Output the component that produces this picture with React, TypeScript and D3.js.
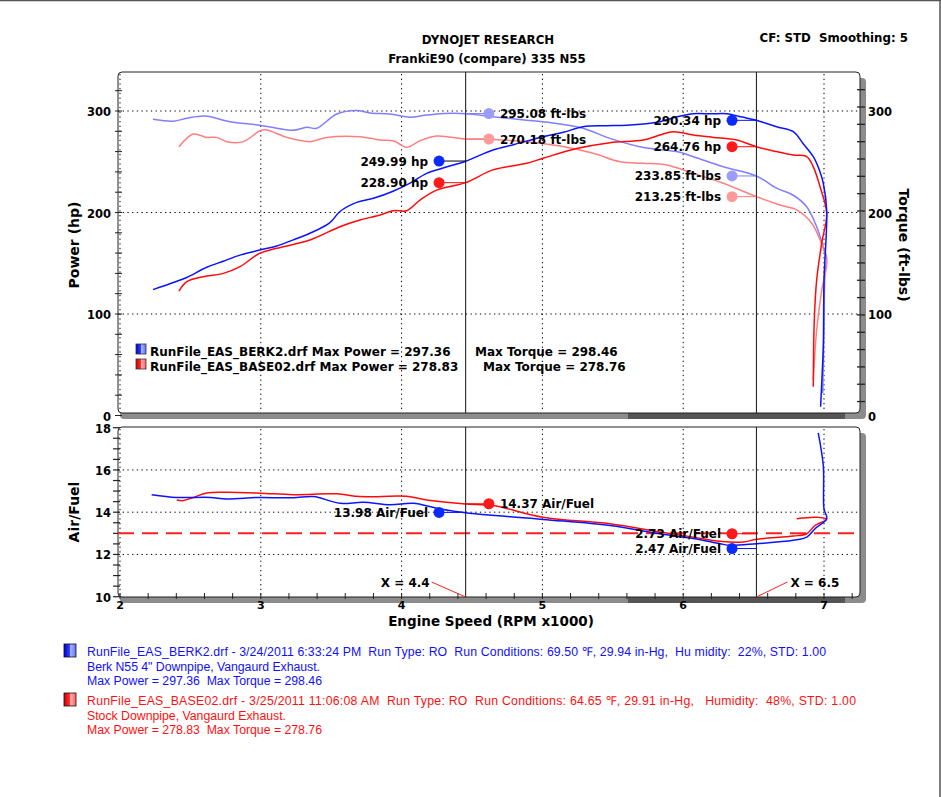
import React from "react";
import * as d3 from "d3";

// ---------- DATA ----------
const blueHpRpm = [2.234, 2.379, 2.474, 2.616, 2.734, 2.852, 2.994, 3.113, 3.231, 3.373, 3.491, 3.562, 3.681, 3.8, 3.939, 4.06, 4.178, 4.3, 4.455, 4.649, 4.8, 5.004, 5.15, 5.288, 5.45, 5.599, 5.835, 5.95, 6.072, 6.2, 6.309, 6.42, 6.52, 6.664, 6.782, 6.851, 6.924, 6.972, 6.995, 7.019, 7.0, 6.995, 6.985, 6.976];
const blueHp = [124, 131, 136, 146, 152, 158, 163, 167, 173, 181, 190, 201, 210, 214, 221, 229, 238.6, 244, 250.5, 261.6, 267, 274.7, 279, 284.5, 285.5, 286, 289.5, 294, 297.4, 297.2, 297.3, 294, 290.8, 284.5, 279.6, 268, 255, 240, 228.8, 202.5, 133, 68, 35, 8.7];

const blueTqRpm = [2.234, 2.379, 2.474, 2.604, 2.781, 2.994, 3.113, 3.231, 3.326, 3.397, 3.539, 3.681, 3.776, 3.918, 4.06, 4.178, 4.3, 4.455, 4.649, 4.888, 5.004, 5.288, 5.48, 5.717, 5.954, 6.072, 6.285, 6.52, 6.664, 6.782, 6.877, 6.948, 6.995, 7.019, 7.007, 6.999, 6.991];
const blueTq = [291.8, 290, 292.8, 295, 289.5, 286, 283, 281, 284, 283, 297, 300.5, 298, 297, 293.8, 296, 297.5, 297.4, 294.4, 291, 289.5, 283, 273, 264, 260, 255, 245, 236, 224, 217, 205.7, 186, 166, 155, 140, 80, 22];

const redHpRpm = [2.419, 2.474, 2.592, 2.734, 2.852, 2.994, 3.113, 3.349, 3.562, 3.705, 3.847, 3.941, 4.036, 4.131, 4.249, 4.455, 4.649, 4.888, 5.004, 5.244, 5.48, 5.717, 5.835, 5.93, 6.072, 6.214, 6.38, 6.52, 6.664, 6.782, 6.877, 6.924, 6.972, 7.019, 6.984, 6.948, 6.931, 6.924];
const redHp = [122.6, 131.8, 136.7, 140, 146.6, 160, 164.7, 172.9, 186, 192.6, 197.5, 201.8, 201.8, 212.3, 222, 229.4, 242, 248.5, 253.4, 263, 268.8, 271.4, 276.4, 279.6, 276.4, 274, 271.4, 264.8, 260, 256.6, 255, 245, 225.4, 199, 170, 133.5, 94, 28.4];

const redTqRpm = [2.419, 2.521, 2.616, 2.687, 2.758, 2.876, 2.994, 3.042, 3.184, 3.349, 3.468, 3.705, 3.847, 3.941, 4.036, 4.131, 4.249, 4.455, 4.649, 4.888, 5.125, 5.362, 5.551, 5.717, 5.883, 6.072, 6.285, 6.52, 6.688, 6.806, 6.913, 6.972, 7.019, 6.984, 6.948, 6.924];
const redTq = [264.8, 277.3, 274, 274, 269.8, 269.8, 280.6, 281.3, 274, 269.8, 274, 274.7, 271.4, 270.7, 264.2, 270.7, 275.4, 272.4, 272, 269.8, 265.5, 258.3, 250, 248.5, 246.8, 238.6, 228.8, 215.6, 207.4, 202.5, 189.4, 172.9, 151.5, 123.6, 84.2, 35];

const blueAfrRpm = [2.225, 2.403, 2.639, 2.758, 2.994, 3.231, 3.373, 3.562, 3.728, 3.918, 4.083, 4.249, 4.455, 5.004, 5.48, 5.835, 6.072, 6.261, 6.332, 6.522, 6.782, 6.877, 6.936, 7.019, 7.0, 6.995, 6.959];
const blueAfr = [14.83, 14.7, 14.7, 14.63, 14.7, 14.68, 14.74, 14.42, 14.47, 14.35, 14.42, 14.19, 13.97, 13.66, 13.37, 12.98, 12.75, 12.51, 12.43, 12.51, 12.67, 12.82, 13.22, 13.69, 14.16, 16.2, 17.76];

const redAfrRpm = [2.403, 2.45, 2.521, 2.616, 2.758, 2.994, 3.231, 3.539, 3.705, 4.036, 4.178, 4.455, 4.649, 5.004, 5.48, 5.835, 6.072, 6.261, 6.427, 6.522, 6.782, 6.877, 6.936, 7.019, 6.948, 6.806];
const redAfr = [14.58, 14.55, 14.7, 14.91, 14.94, 14.9, 14.83, 14.87, 14.74, 14.75, 14.58, 14.39, 14.32, 13.76, 13.45, 13.06, 12.82, 12.62, 12.59, 12.72, 12.87, 12.98, 13.37, 13.66, 13.76, 13.69];

const targetAfr = 13;
const cursorRpm = [4.455, 6.52];
const cursorLabels = ["X = 4.4", "X = 6.5"];

const topNoteLabels = ["249.99 hp", "228.90 hp", "295.08 ft-lbs", "270.18 ft-lbs", "290.34 hp", "264.76 hp", "233.85 ft-lbs", "213.25 ft-lbs"];
const topNoteRpm = [4.266, 4.266, 4.62, 4.62, 6.347, 6.347, 6.347, 6.347];
const topNoteValues = [250.7, 229.4, 297.5, 272.4, 290.8, 264.8, 236, 215.6];
const topNoteSeries = ["blueHp", "redHp", "blueTq", "redTq", "blueHp", "redHp", "blueTq", "redTq"];
const topNoteSide = ["left", "left", "right", "right", "left", "left", "left", "left"];
const topNoteCursor = [0, 0, 0, 0, 1, 1, 1, 1];

const afrNoteLabels = ["13.98 Air/Fuel", "14.37 Air/Fuel", "2.73 Air/Fuel", "2.47 Air/Fuel"];
const afrNoteRpm = [4.266, 4.62, 6.347, 6.347];
const afrNoteValues = [13.99, 14.4, 12.98, 12.28];
const afrNoteSeries = ["blueAfr", "redAfr", "redAfr", "blueAfr"];
const afrNoteSide = ["left", "right", "left", "left"];
const afrNoteCursor = [0, 0, 1, 1];

const xTickLabels = ["2", "3", "4", "5", "6", "7"];
const powerTickLabels = ["0", "100", "200", "300"];
const torqueTickLabels = ["0", "100", "200", "300"];
const afrTickLabels = ["10", "12", "14", "16", "18"];

const legendNames = ["RunFile_EAS_BERK2.drf Max Power = 297.36", "RunFile_EAS_BASE02.drf Max Power = 278.83"];
const legendTorque = ["Max Torque = 298.46", "Max Torque = 278.76"];

const infoBlue = [
  "RunFile_EAS_BERK2.drf - 3/24/2011 6:33:24 PM  Run Type: RO  Run Conditions: 69.50 \u2109, 29.94 in-Hg,  Hu midity:  22%, STD: 1.00",
  "Berk N55 4\" Downpipe, Vangaurd Exhaust.",
  "Max Power = 297.36  Max Torque = 298.46",
];
const infoRed = [
  "RunFile_EAS_BASE02.drf - 3/25/2011 11:06:08 AM  Run Type: RO  Run Conditions: 64.65 \u2109, 29.91 in-Hg,   Humidity:  48%, STD: 1.00",
  "Stock Downpipe, Vangaurd Exhaust.",
  "Max Power = 278.83  Max Torque = 278.76",
];

// ---------- STYLE ----------
const W = 941, H = 797;
const infoWidthsBlue = [739, 233, 235];
const infoWidthsRed = [769, 199, 235];
const colors: Record<string, string> = {
  blueHp: "#0a14ff",
  blueTq: "#7f7fff",
  redHp: "#ff0a0a",
  redTq: "#ff7f7f",
  blueAfr: "#0a14ff",
  redAfr: "#ff0a0a",
};
const dotColors: Record<string, string> = {
  blueHp: "#0a2aff",
  blueTq: "#9c9cff",
  redHp: "#ff1a1a",
  redTq: "#ff9a9a",
  blueAfr: "#0a2aff",
  redAfr: "#ff1a1a",
};
const BOLD = "'DejaVu Sans', Verdana, sans-serif";
const SANS = "'Liberation Sans', Arial, sans-serif";

export default function App() {
  const x = d3.scaleLinear().domain([2, 7]).range([120, 824]);
  const yTop = d3.scaleLinear().domain([0, 300]).range([415.5, 111]);
  const yAfr = d3.scaleLinear().domain([10, 18]).range([596.7, 427.7]);

  const topL = 118, topR = 860, topT = 72, topB = 413;
  const botT = 427, botB = 597;

  const mkLine = (ys: d3.ScaleLinear<number, number>, rs: number[], vs: number[]) =>
    d3.line<number>()
      .x((_, i) => x(rs[i]))
      .y((v) => ys(v))
      .curve(d3.curveCatmullRom.alpha(0.5))(vs) || "";

  const gridX = d3.range(2, 8, 1);
  const xMinor = d3.range(2, 7.21, 0.2);
  const powerMinor = d3.range(0, 321, 20);
  const torqueMinor = d3.range(321, 0, -17.07);
  const afrMinor = d3.range(10, 18.01, 0.5);

  const dotted = "1.3,3.4";

  const shadow = (t: number, b: number) => (
    <g>
      <rect x={topR - 4} y={t + 6} width={10} height={b - t} rx={4} fill="#8c8c8c" />
      <rect x={topL + 2} y={b - 4} width={topR - topL + 2} height={10} rx={4} fill="#8c8c8c" />
      <rect x={628} y={b} width={217} height={6} fill="#555" />
    </g>
  );

  const renderNotes = (
    labels: string[], rpms: number[], vals: number[], series: string[], sides: string[], curs: number[],
    ys: d3.ScaleLinear<number, number>
  ) =>
    labels.map((lab, i) => {
      const dx = x(rpms[i]);
      const dy = ys(vals[i]);
      const cx = x(cursorRpm[curs[i]]);
      const left = sides[i] === "left";
      return (
        <g key={lab + i}>
          <line x1={dx} x2={cx} y1={dy} y2={dy} stroke={i === 0 && ys === yTop ? "#000" : colors[series[i]]} strokeWidth={1} />
          <circle cx={dx} cy={dy} r={5.5} fill={dotColors[series[i]]} />
          <text x={left ? dx - 11 : dx + 11} y={dy + 4.5} textAnchor={left ? "end" : "start"}
            fontFamily={BOLD} fontWeight="bold" fontSize={12} fill="#000">{lab}</text>
        </g>
      );
    });

  return (
    <svg width={W} height={H} style={{ position: "absolute", left: 0, top: 0, background: "#fff" }}>
      <defs>
        <linearGradient id="gBlue" x1="0" x2="1" y1="0" y2="0">
          <stop offset="0" stopColor="#0000d0" />
          <stop offset="0.45" stopColor="#2a3cff" />
          <stop offset="0.55" stopColor="#a8b4ff" />
          <stop offset="1" stopColor="#6070ff" />
        </linearGradient>
        <linearGradient id="gRed" x1="0" x2="1" y1="0" y2="0">
          <stop offset="0" stopColor="#d00000" />
          <stop offset="0.45" stopColor="#ff2a2a" />
          <stop offset="0.55" stopColor="#ffb0b0" />
          <stop offset="1" stopColor="#ff6060" />
        </linearGradient>
        <clipPath id="clipTop"><rect x={topL} y={topT} width={topR - topL} height={topB - topT} /></clipPath>
        <clipPath id="clipBot"><rect x={topL} y={botT} width={topR - topL} height={botB - botT} /></clipPath>
      </defs>

      {/* page border */}
      <line x1={0} x2={W} y1={0.5} y2={0.5} stroke="#555" strokeWidth={1.5} />
      <line x1={W - 1} x2={W - 1} y1={0} y2={H} stroke="#555" strokeWidth={1.5} />

      {/* titles */}
      <text x={488} y={44} textAnchor="middle" fontFamily={BOLD} fontWeight="bold" fontSize={11.8}>DYNOJET RESEARCH</text>
      <text x={487} y={63} textAnchor="middle" fontFamily={BOLD} fontWeight="bold" fontSize={11.8}>FrankiE90 (compare) 335 N55</text>
      <text x={908} y={42} textAnchor="end" fontFamily={BOLD} fontWeight="bold" fontSize={11.8} style={{ whiteSpace: "pre" }}>CF: STD  Smoothing: 5</text>

      {/* ===== TOP PANEL ===== */}
      {shadow(topT, topB)}
      <rect x={topL} y={topT} width={topR - topL} height={topB - topT} rx={4} fill="#fff" stroke="#222" strokeWidth={1} />
      {gridX.map((g) => (
        <line key={"gt" + g} x1={x(g)} x2={x(g)} y1={topT + 2} y2={topB - 2} stroke="#000" strokeWidth={1} strokeDasharray={dotted} />
      ))}
      {[100, 200, 300].map((v) => (
        <line key={"gh" + v} x1={topL} x2={topR} y1={yTop(v)} y2={yTop(v)} stroke="#000" strokeWidth={1} strokeDasharray={dotted} />
      ))}
      {powerMinor.map((v) => (
        <line key={"pm" + v} x1={topL - 3} x2={topL + 4} y1={yTop(v)} y2={yTop(v)} stroke="#222" strokeWidth={1} />
      ))}
      {torqueMinor.map((v) => (
        <line key={"tm" + v} x1={topR - 3} x2={topR + 5} y1={yTop(v)} y2={yTop(v)} stroke="#222" strokeWidth={1.3} />
      ))}
      {powerTickLabels.map((t) => (
        <text key={"pl" + t} x={111} y={yTop(+t) + 5} textAnchor="end" fontFamily={BOLD} fontWeight="bold" fontSize={11.5}>{t}</text>
      ))}
      {torqueTickLabels.map((t) => (
        <text key={"tl" + t} x={868} y={yTop(+t) + 5} textAnchor="start" fontFamily={BOLD} fontWeight="bold" fontSize={11.5}>{t}</text>
      ))}
      <text transform={`translate(79,245) rotate(-90)`} textAnchor="middle" fontFamily={BOLD} fontWeight="bold" fontSize={14}>Power (hp)</text>
      <text transform={`translate(899,245) rotate(90)`} textAnchor="middle" fontFamily={BOLD} fontWeight="bold" fontSize={14}>Torque (ft-lbs)</text>

      <g clipPath="url(#clipTop)" fill="none" strokeWidth={1.5}>
        <path d={mkLine(yTop, blueTqRpm, blueTq)} stroke={colors.blueTq} />
        <path d={mkLine(yTop, redTqRpm, redTq)} stroke={colors.redTq} />
        <path d={mkLine(yTop, redHpRpm, redHp)} stroke={colors.redHp} />
        <path d={mkLine(yTop, blueHpRpm, blueHp)} stroke={colors.blueHp} />
      </g>

      {/* legend */}
      {legendNames.map((n, i) => (
        <g key={"lg" + i}>
          <rect x={136} y={344 + i * 15} width={10} height={10} fill={i === 0 ? "url(#gBlue)" : "url(#gRed)"} stroke="#333" strokeWidth={0.8} />
          <text x={150} y={356 + i * 15} fontFamily={BOLD} fontWeight="bold" fontSize={12}>{n}</text>
          <text x={i === 0 ? 475 : 483} y={356 + i * 15} fontFamily={BOLD} fontWeight="bold" fontSize={12}>{legendTorque[i]}</text>
        </g>
      ))}

      {/* ===== BOTTOM PANEL ===== */}
      {shadow(botT, botB)}
      <rect x={topL} y={botT} width={topR - topL} height={botB - botT} rx={4} fill="#fff" stroke="#222" strokeWidth={1} />
      {gridX.map((g) => (
        <line key={"gb" + g} x1={x(g)} x2={x(g)} y1={botT + 2} y2={botB - 2} stroke="#000" strokeWidth={1} strokeDasharray={dotted} />
      ))}
      {[12, 14, 16].map((v) => (
        <line key={"ga" + v} x1={topL} x2={topR} y1={yAfr(v)} y2={yAfr(v)} stroke="#000" strokeWidth={1} strokeDasharray={dotted} />
      ))}
      {afrMinor.map((v) => (
        <line key={"am" + v} x1={topL - 5} x2={topL + 2} y1={yAfr(v)} y2={yAfr(v)} stroke="#222" strokeWidth={1.2} />
      ))}
      {afrTickLabels.map((t) => (
        <text key={"al" + t} x={111} y={yAfr(+t) + 5} textAnchor="end" fontFamily={BOLD} fontWeight="bold" fontSize={11.5}>{t}</text>
      ))}
      {xMinor.map((v) => (
        <line key={"xm" + v.toFixed(1)} x1={x(v)} x2={x(v)} y1={botB - 4} y2={botB + 2} stroke="#222" strokeWidth={1} />
      ))}
      {xTickLabels.map((t) => (
        <text key={"xl" + t} x={x(+t)} y={609} textAnchor="middle" fontFamily={BOLD} fontWeight="bold" fontSize={11}>{t}</text>
      ))}
      <text transform={`translate(79,512) rotate(-90)`} textAnchor="middle" fontFamily={BOLD} fontWeight="bold" fontSize={14}>Air/Fuel</text>
      <text x={491} y={626} textAnchor="middle" fontFamily={BOLD} fontWeight="bold" fontSize={13.5}>Engine Speed (RPM x1000)</text>

      <line x1={topL} x2={topR} y1={yAfr(targetAfr)} y2={yAfr(targetAfr)} stroke="#ff2020" strokeWidth={2} strokeDasharray="16,8" />
      <g clipPath="url(#clipBot)" fill="none" strokeWidth={1.5}>
        <path d={mkLine(yAfr, redAfrRpm, redAfr)} stroke={colors.redAfr} />
        <path d={mkLine(yAfr, blueAfrRpm, blueAfr)} stroke={colors.blueAfr} />
      </g>

      {/* cursors */}
      {cursorRpm.map((c, i) => (
        <g key={"cur" + i}>
          <line x1={x(c)} x2={x(c)} y1={topT} y2={topB} stroke="#111" strokeWidth={1} />
          <line x1={x(c)} x2={x(c)} y1={botT} y2={botB} stroke="#111" strokeWidth={1} />
          <line x1={i === 0 ? x(c) - 34 : x(c) + 31} y1={582} x2={x(c)} y2={botB} stroke="#ff2020" strokeWidth={1} />
          <text x={i === 0 ? x(c) - 36 : x(c) + 34} y={587} textAnchor={i === 0 ? "end" : "start"}
            fontFamily={BOLD} fontWeight="bold" fontSize={12}>{cursorLabels[i]}</text>
        </g>
      ))}

      {renderNotes(topNoteLabels, topNoteRpm, topNoteValues, topNoteSeries, topNoteSide, topNoteCursor, yTop)}
      {renderNotes(afrNoteLabels, afrNoteRpm, afrNoteValues, afrNoteSeries, afrNoteSide, afrNoteCursor, yAfr)}

      {/* info block */}
      <rect x={64} y={644} width={12} height={13} fill="url(#gBlue)" stroke="#111" strokeWidth={0.8} />
      {infoBlue.map((t, i) => (
        <text key={"ib" + i} x={87} y={656 + i * 14.5} fontFamily={SANS} fontSize={12.3} fill="#1010ff"
          textLength={infoWidthsBlue[i]} lengthAdjust="spacing" style={{ whiteSpace: "pre" }}>{t}</text>
      ))}
      <rect x={64} y={693} width={12} height={13} fill="url(#gRed)" stroke="#111" strokeWidth={0.8} />
      {infoRed.map((t, i) => (
        <text key={"ir" + i} x={87} y={705 + i * 14.5} fontFamily={SANS} fontSize={12.3} fill="#ff1010"
          textLength={infoWidthsRed[i]} lengthAdjust="spacing" style={{ whiteSpace: "pre" }}>{t}</text>
      ))}
    </svg>
  );
}
